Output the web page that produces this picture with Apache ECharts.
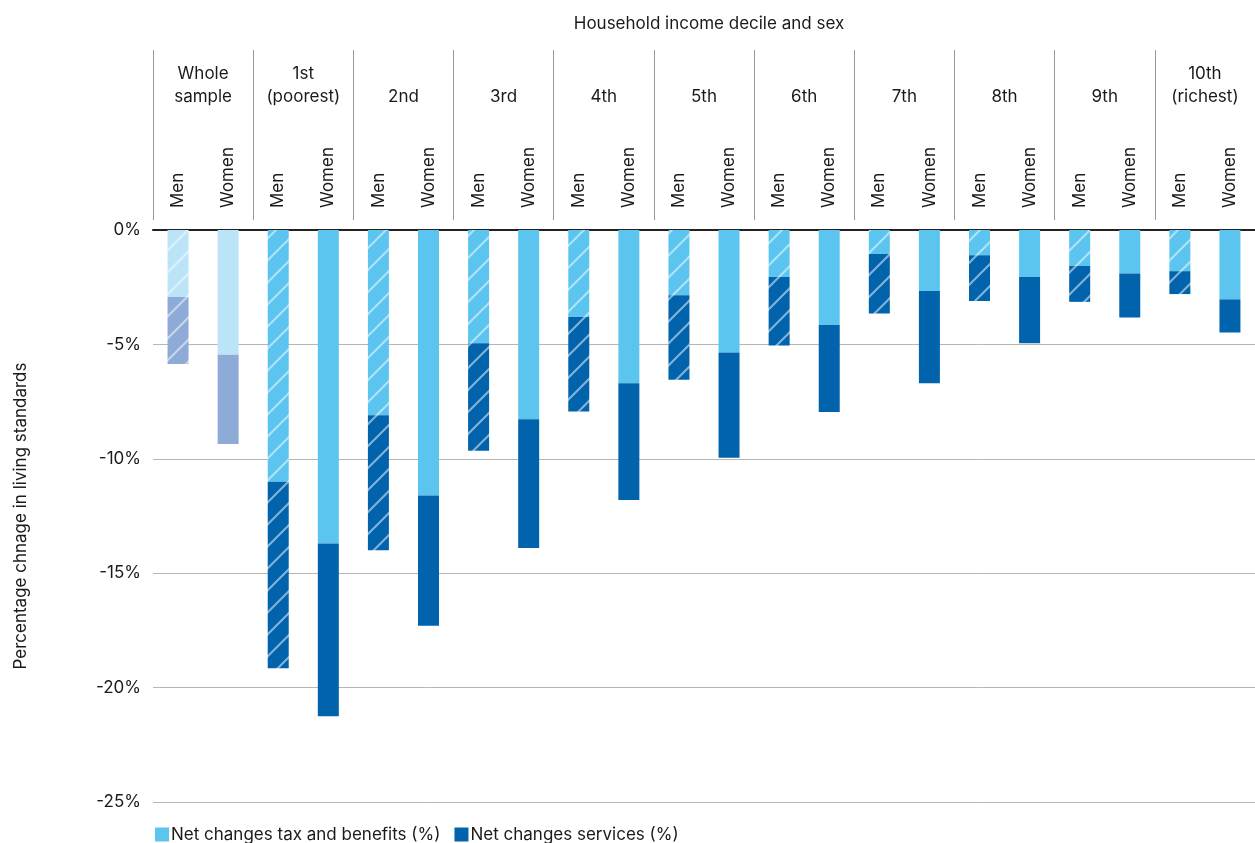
<!DOCTYPE html>
<html><head><meta charset="utf-8">
<script src="https://cdn.jsdelivr.net/npm/echarts@6/dist/echarts.min.js"></script>
<style>html,body{margin:0;padding:0;background:#fff}#c{width:1255px;height:843px}</style>
</head><body><div id="c"></div>
<script>
const groups = ['Whole\nsample','1st\n(poorest)','2nd','3rd','4th','5th','6th','7th','8th','9th','10th\n(richest)'];
const sexes = ['Men','Women'];
const categories = ['Men','Women','Men','Women','Men','Women','Men','Women','Men','Women','Men','Women','Men','Women','Men','Women','Men','Women','Men','Women','Men','Women'];
const taxBenefits = [-2.93,-5.45, -11.0,-13.7, -8.1,-11.6, -4.95,-8.27, -3.8,-6.7, -2.85,-5.35, -2.05,-4.15, -1.05,-2.67, -1.1,-2.05, -1.57,-1.9, -1.8,-3.03];
const services = [-2.93,-3.9, -8.15,-7.55, -5.9,-5.7, -4.7,-5.63, -4.13,-5.1, -3.7,-4.6, -3.0,-3.8, -2.6,-4.03, -2.0,-2.9, -1.57,-1.92, -1.0,-1.45];
const seriesNames = ['Net changes tax and benefits (%)','Net changes services (%)'];

const FONT = 'Inter, "Noto Sans", sans-serif';
const LIGHT = '#5BC5F0', DARK = '#0063AC';
const LIGHT_W = '#BCE4F7', DARK_W = '#8EAAD7';

function hatch(color){
  const S = 22;
  const c = document.createElement('canvas');
  c.width = S; c.height = S;
  const g = c.getContext('2d');
  g.fillStyle = color; g.fillRect(0,0,S,S);
  g.strokeStyle = 'rgba(255,255,255,0.5)'; g.lineWidth = 2.2;
  g.beginPath();
  g.moveTo(-2, S+2); g.lineTo(S+2, -2);
  g.moveTo(-2, 2); g.lineTo(2, -2);
  g.moveTo(S-2, S+2); g.lineTo(S+2, S-2);
  g.stroke();
  return {image: c, repeat: 'repeat'};
}

function itemColor(i, series){
  const whole = i < 2;
  const men = i % 2 === 0;
  const base = series === 0 ? (whole ? LIGHT_W : LIGHT) : (whole ? DARK_W : DARK);
  return men ? hatch(base) : base;
}

const taxData = taxBenefits.map((v,i)=>({value:v, itemStyle:{color:itemColor(i,0)}}));
const servData = services.map((v,i)=>({value:v, itemStyle:{color:itemColor(i,1)}}));

const chart = echarts.init(document.getElementById('c'), null, {renderer:'canvas'});
chart.setOption({
  animation: false,
  backgroundColor: '#fff',
  title: {
    text: 'Household income decile and sex',
    left: 704, top: 10, textAlign: 'center',
    textStyle: {fontFamily: FONT, fontSize: 17, fontWeight: 'normal', color: '#1a1a1a'}
  },
  grid: [
    {left: 153, right: 0, top: 230, bottom: 41, outerBoundsMode: 'none', containLabel: false},
    {left: 153, right: 0, top: 50, height: 170, outerBoundsMode: 'none', containLabel: false}
  ],
  legend: {
    left: 150, top: 821, itemWidth: 14, itemHeight: 14, itemGap: 14,
    icon: 'rect',
    textStyle: {fontFamily: FONT, fontSize: 17, color: '#1a1a1a', padding: [0,0,0,-3]},
    data: seriesNames
  },
  xAxis: [{
    gridIndex: 0, type: 'category', position: 'top', data: categories,
    axisLine: {show: true, onZero: false, lineStyle: {color: '#222', width: 2}},
    axisTick: {show: false},
    axisLabel: {rotate: -90, margin: 22, fontFamily: FONT, fontSize: 17, color: '#1a1a1a', interval: 0}
  },{
    gridIndex: 1, type: 'category', position: 'top', data: groups,
    axisLine: {show: false}, axisTick: {show: false},
    splitLine: {show: true, interval: 0, lineStyle: {color: '#999', width: 1}},
    axisLabel: {inside: true, margin: 58, fontFamily: FONT, fontSize: 17, color: '#1a1a1a', lineHeight: 23, interval: 0, verticalAlign: 'bottom'}
  }],
  yAxis: [{
    gridIndex: 0, type: 'value', min: -25, max: 0, interval: 5,
    name: 'Percentage chnage in living standards',
    nameLocation: 'middle', nameGap: 124, nameRotate: 90,
    nameTextStyle: {fontFamily: FONT, fontSize: 17, color: '#1a1a1a'},
    axisLine: {show: false}, axisTick: {show: false},
    axisLabel: {margin: 12, fontFamily: FONT, fontSize: 17, color: '#1a1a1a', formatter: v => v + '%'},
    splitLine: {lineStyle: {color: '#b5b5b5', width: 1}}
  },{
    gridIndex: 1, type: 'value', show: false, min: 0, max: 1
  }],
  series: [{
    name: seriesNames[0], type: 'bar', stack: 'total', xAxisIndex: 0, yAxisIndex: 0,
    barWidth: 21, itemStyle: {color: LIGHT}, data: taxData
  },{
    name: seriesNames[1], type: 'bar', stack: 'total', xAxisIndex: 0, yAxisIndex: 0,
    barWidth: 21, itemStyle: {color: DARK}, data: servData
  }]
});
</script>
</body></html>
